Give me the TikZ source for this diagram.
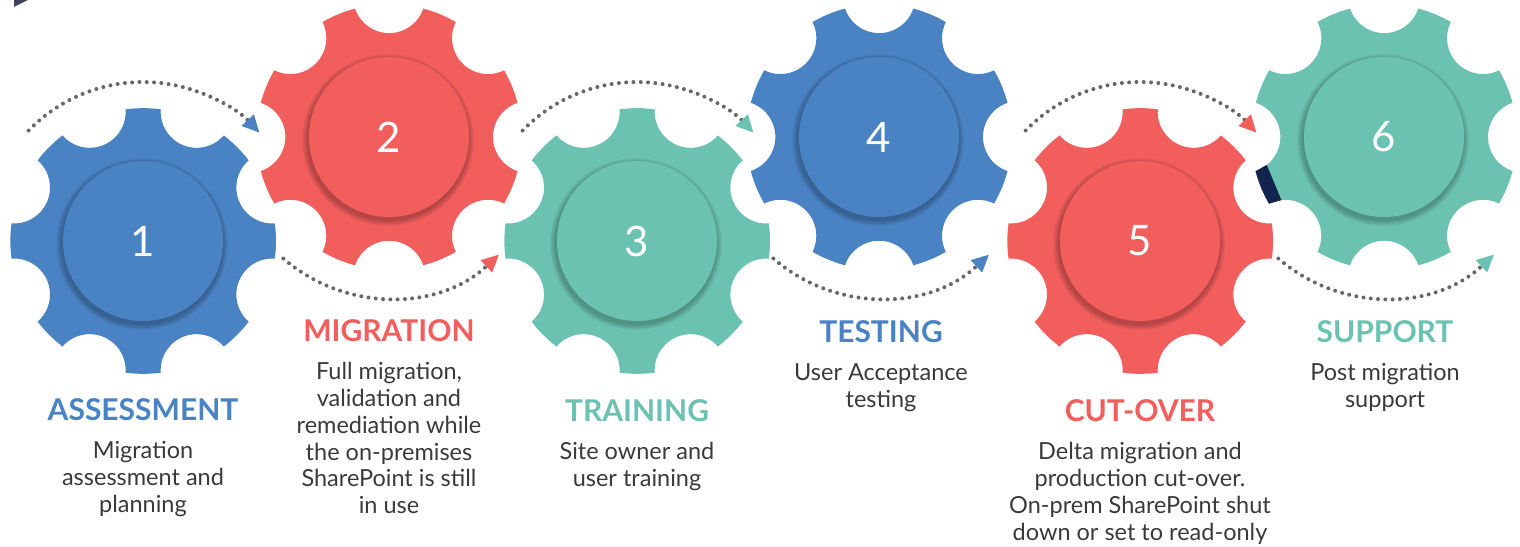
\documentclass[tikz,border=0pt]{standalone}
\usepackage{fontspec}
\setmainfont{Lato}
\usetikzlibrary{calc,arrows.meta,positioning}
\definecolor{cblue}{HTML}{4A83C4}
\definecolor{cred}{HTML}{F15E5C}
\definecolor{cgreen}{HTML}{6CC2B1}
\definecolor{navy}{HTML}{13244F}
\definecolor{corner}{HTML}{3F4260}
\definecolor{dotgray}{HTML}{676767}
\definecolor{textgray}{HTML}{3A3A3A}

\begin{document}
\begin{tikzpicture}[x=1pt, y=1pt,
    hub/.style={circle, minimum size=160pt, inner sep=0pt, text=white, font=\fontsize{42}{42}\selectfont},
    title/.style={font=\fontsize{30}{31}\selectfont\bfseries, inner sep=0pt, anchor=base},
    desc/.style={font=\fontsize{23.5}{26.7}\selectfont, text=textgray, align=center, inner sep=0pt},
    dots/.style={draw=dotgray, line width=4pt, line cap=round, dash pattern=on 0pt off 7.3pt}
  ]
  \useasboundingbox (0,0) rectangle (1520,546);
  \fill[corner] (14,546) -- (14,539) -- (28,546) -- cycle;

  % Gears with hubs
  \foreach \n/\x/\y/\col/\rot in {1/143/305/cblue/0, 2/389/409/cred/22.5, 3/637/305/cgreen/0,
      4/879/409/cblue/22.5, 5/1140/305/cred/0, 6/1384/409/cgreen/22.5}{
    \fill[\col, shift={(\x,\y)}] (\rot-7.6:133) \foreach \k in {0,...,7}{
        arc[start angle=\rot-7.6+45*\k, end angle=\rot+7.6+45*\k, radius=133pt]
        arc[start angle=\rot+273.96+45*\k, end angle=\rot+131.04+45*\k, radius=36pt]} -- cycle;
    \foreach \s in {1,...,6} \fill[black, opacity=0.045] (\x-1,\y-3) circle[radius={80+\s}];
    \node[hub, fill=\col] (g\n) at (\x,\y) {\n};
  }

  % dark tip on gear 6
  \begin{scope}[shift={(g6.center)}, rotate=202.5]
    \fill[navy] (119,-19.1) -- (-7.6:133) arc[start angle=-7.6, end angle=7.6, radius=133pt] -- (119,19.1) -- cycle;
  \end{scope}

  % Dotted turns
  \draw[dots, -{Triangle[length=17pt, width=17pt, line width=0pt, color=cblue]}]
    ($(g1)+(136:159)$) arc[start angle=136, end angle=43, radius=159pt];
  \draw[dots, -{Triangle[length=17pt, width=17pt, line width=0pt, color=cred]}]
    ($(g2)+(229:161)$) arc[start angle=229, end angle=313, radius=161pt];
  \draw[dots, -{Triangle[length=17pt, width=17pt, line width=0pt, color=cgreen]}]
    ($(g3)+(136:159)$) arc[start angle=136, end angle=43, radius=159pt];
  \draw[dots, -{Triangle[length=17pt, width=17pt, line width=0pt, color=cblue]}]
    ($(g4)+(229:161)$) arc[start angle=229, end angle=313, radius=161pt];
  \draw[dots, -{Triangle[length=17pt, width=17pt, line width=0pt, color=cred]}]
    ($(g5)+(136:159)$) arc[start angle=136, end angle=43, radius=159pt];
  \draw[dots, -{Triangle[length=17pt, width=17pt, line width=0pt, color=cgreen]}]
    ($(g6)+(229:161)$) arc[start angle=229, end angle=313, radius=161pt];

  % Steps
  \node[title, text=cblue] (t1) at (143,125) {ASSESSMENT};
  \node[desc, below=20pt of t1.south] (d1) {Migration\\assessment and\\planning};

  \node[title, text=cred] (t2) at (389,204) {MIGRATION};
  \node[desc, below=20pt of t2.south] (d2) {Full migration,\\validation and\\remediation while\\the on-premises\\SharePoint is still\\in use};

  \node[title, text=cgreen] (t3) at (637,124) {TRAINING};
  \node[desc, below=20pt of t3.south] (d3) {Site owner and\\user training};

  \node[title, text=cblue] (t4) at (881,203) {TESTING};
  \node[desc, below=20pt of t4.south] (d4) {User Acceptance\\testing};

  \node[title, text=cred] (t5) at (1140,124) {CUT-OVER};
  \node[desc, below=20pt of t5.south] (d5) {Delta migration and\\production cut-over.\\On-prem SharePoint shut\\down or set to read-only};

  \node[title, text=cgreen] (t6) at (1385,203) {SUPPORT};
  \node[desc, below=20pt of t6.south] (d6) {Post migration\\support};
\end{tikzpicture}
\end{document}
